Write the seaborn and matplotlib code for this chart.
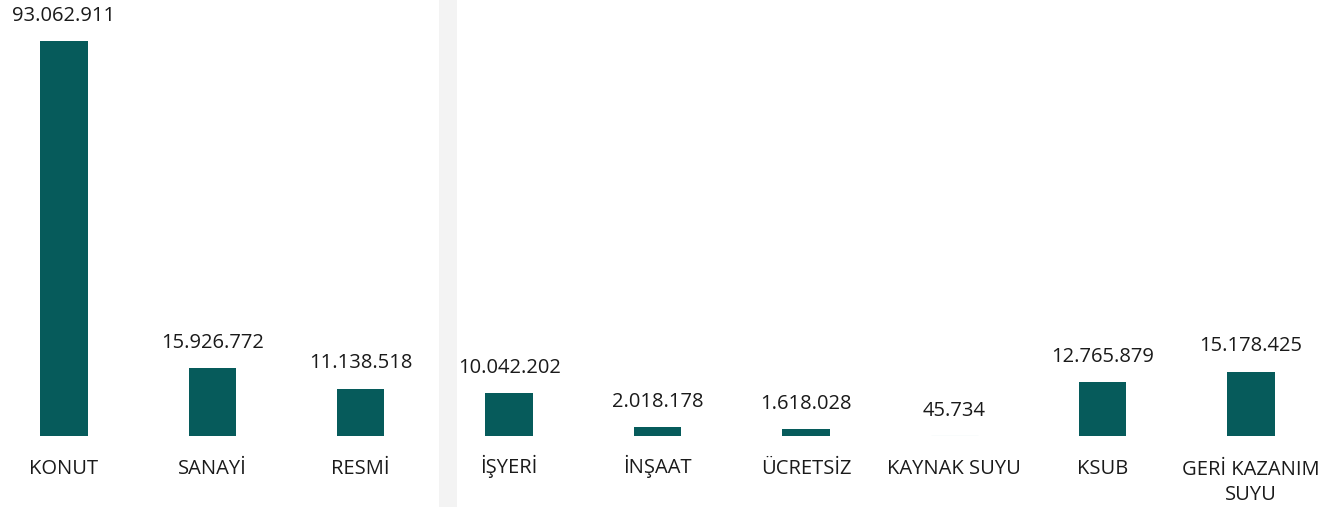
import numpy as np
import pandas as pd
import matplotlib
matplotlib.use("Agg")
import matplotlib.pyplot as plt
from matplotlib.patches import Rectangle
from matplotlib.transforms import ScaledTranslation
import seaborn as sns

categories = ["KONUT", "SANAYİ", "RESMİ", "İŞYERİ", "İNŞAAT", "ÜCRETSİZ",
              "KAYNAK SUYU", "KSUB", "GERİ KAZANIM\nSUYU"]
values = [93062911, 15926772, 11138518, 10042202, 2018178, 1618028,
          45734, 12765879, 15178425]

df = pd.DataFrame({"kategori": categories, "miktar": values})

sns.set_style("white")
plt.rcParams['font.family'] = ['Open Sans', 'DejaVu Sans']

W, H = 1325, 507
fig = plt.figure(figsize=(W / 100, H / 100), dpi=100)

# light grey separator band
fig.patches.append(Rectangle((439 / W, 0), 18 / W, 1, transform=fig.transFigure,
                             facecolor='#f3f3f3', edgecolor='none', zorder=0))

ax = fig.add_axes([0, 71 / H, 1, (H - 71) / H])
ax.patch.set_alpha(0)

sns.barplot(data=df, x="kategori", y="miktar", color="#065b5b", width=0.32,
            linewidth=0, saturation=1, ax=ax)

# tiny bars still show up as a faint line
for bar in ax.containers[0]:
    if bar.get_height() < 5e5:
        bar.set_edgecolor('#9cc9c9')
        bar.set_linewidth(0.8)

labels = [f"{v:,}".replace(",", ".") for v in values]
ax.bar_label(ax.containers[0], labels=labels, padding=11, fontsize=14.5, color='#1a1a1a')

ax.set_xlim(-0.431, 8.498)
ax.set_ylim(0, 102.73e6)
ax.set_xlabel("")
ax.set_ylabel("")
ax.set_yticks([])
ax.tick_params(axis='x', length=0, pad=27, labelsize=14.5, labelcolor='#1a1a1a')
for t in ax.get_xticklabels():
    t.set_linespacing(1.3)
    t.set_verticalalignment('baseline')
    # baseline alignment uses the last line, push multi-line labels down
    nlines = t.get_text().count("\n")
    if nlines:
        t.set_transform(t.get_transform() + ScaledTranslation(0, -0.26 * nlines, fig.dpi_scale_trans))
sns.despine(ax=ax, left=True, bottom=True)

plt.savefig("out.png", dpi=100)
